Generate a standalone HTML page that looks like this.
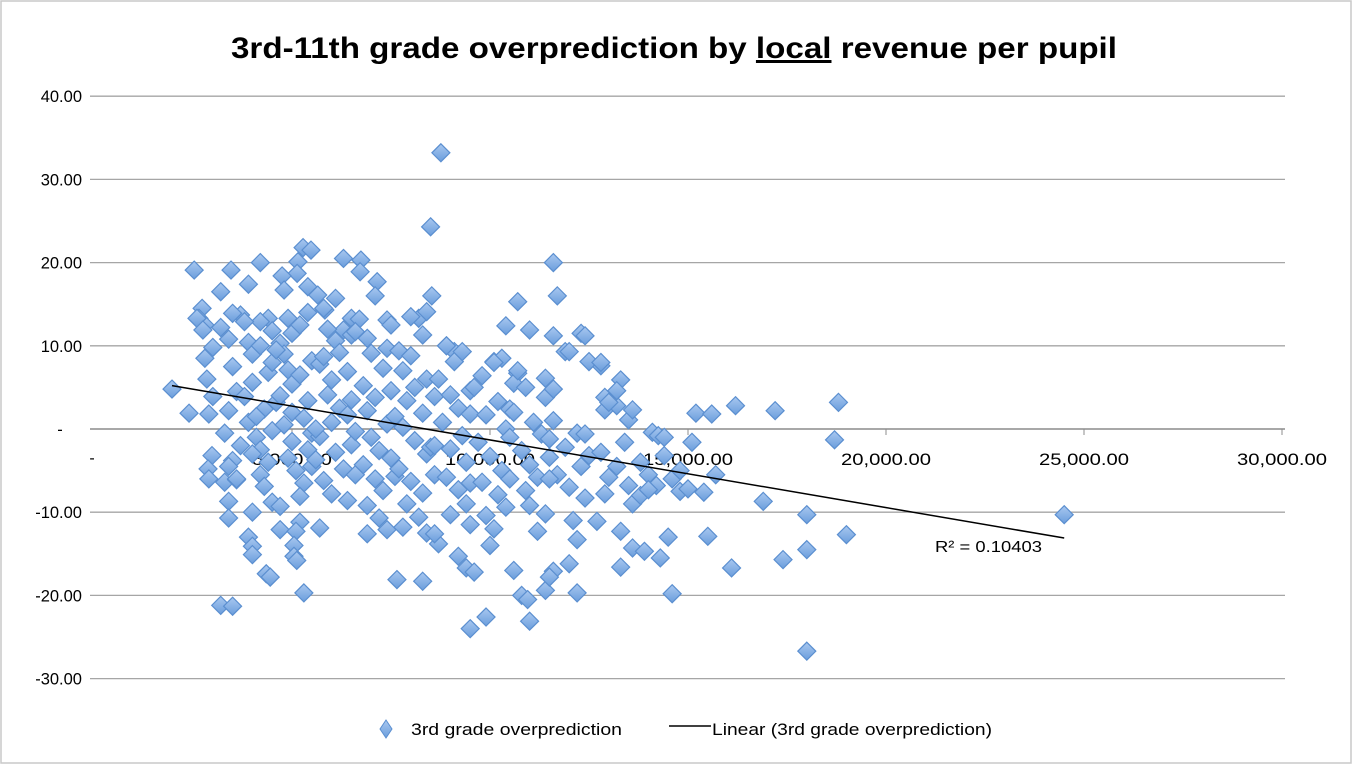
<!DOCTYPE html>
<html><head><meta charset="utf-8">
<style>
html,body{margin:0;padding:0;background:#fff;}
#wrap{position:relative;width:1353px;height:766px;overflow:hidden;}
svg{display:block;font-family:"Liberation Sans",sans-serif;}
</style></head>
<body>
<div id="wrap">
<svg id="chart" width="1353" height="766" viewBox="0 0 1353 766">
<defs>
<linearGradient id="dg" x1="0" y1="0" x2="0" y2="1">
<stop offset="0" stop-color="#a9c8f0"/><stop offset="1" stop-color="#6a9ddc"/>
</linearGradient>
</defs>
<rect x="1" y="1" width="1350" height="762" fill="#fff" stroke="#c8c8c8" stroke-width="1.5"/>
<text x="674" y="58" text-anchor="middle" font-size="30" font-weight="bold" fill="#000" textLength="886" lengthAdjust="spacingAndGlyphs">3rd-11th grade overprediction by <tspan text-decoration="underline">local</tspan> revenue per pupil</text>
<g id="grid"></g>
<g id="yticks"></g>
<g id="xaxis"></g>
<g id="points"></g>
<g id="trend"></g>
<text x="935" y="552" font-size="16" fill="#000" textLength="107" lengthAdjust="spacingAndGlyphs">R² = 0.10403</text>
<g>
<path d="M386,720 L392,729 L386,738 L380,729 Z" fill="url(#dg)" stroke="#5b8fd0" stroke-width="1"/>
<text x="411" y="735" font-size="17" fill="#000" textLength="211" lengthAdjust="spacingAndGlyphs">3rd grade overprediction</text>
<line x1="669" y1="726" x2="711" y2="726" stroke="#000" stroke-width="1.5"/>
<text x="712" y="735" font-size="17" fill="#000" textLength="280" lengthAdjust="spacingAndGlyphs">Linear (3rd grade overprediction)</text>
</g>
</svg>
</div>
<script>
const yTicks=[40,30,20,10,0,-10,-20,-30];
const yTickLabels=["40.00","30.00","20.00","10.00","-","-10.00","-20.00","-30.00"];
const xTicks=[5000,10000,15000,20000,25000,30000];
const xTickLabels=["5,000.00","10,000.00","15,000.00","20,000.00","25,000.00","30,000.00"];
// revenue per pupil (thousands)
const revK=[1.97,2.53,2.4,8.76,8.5,8.53,5.28,5.48,5.15,4.2,3.46,6.3,6.74,6.72,5.13,4.75,7.15,7.1,11.6,11.7,4.8,3.2,3.9,5.4,5.65,6.1,5.83,10.7,2.73,2.65,2.8,3.7,4.4,4.2,4.9,6.5,6.3,7.4,7.5,8.2,8.4,10.4,11.0,12.3,12.4,11.6,11.9,12.8,12.5,13.3,11.4,10.7,10.6,10.1,10.3,8.9,9.1,12.9,12.9,13.2,13.5,13.6,15.2,15.6,16.2,17.2,18.8,18.7,15.1,14.1,14.25,15.7,14.8,15.0,15.4,16.9,18.0,24.5,19.0,18.0,15.5,17.4,16.1,14.6,18.0,14.5,14.3,13.6,13.3,13.9,13.3,
2.98,2.88,2.9,3.3,3.6,3.4,3.4,4.0,3.9,4.0,4.0,4.7,5.2,5.1,5.05,5.05,5.12,5.7,4.35,4.45,3.2,3.5,5.3,7.65,8.3,9.2,9.4,9.6,8.7,10.0,10.6,10.8,10.95,11.4,9.5,9.9,11.0,12.2,11.6,11.5,12.0,12.2,12.7,
2.6,2.75,2.8,2.85,3.0,3.2,3.0,2.9,3.4,3.3,3.4,3.6,3.5,3.4,3.6,3.7,3.5,3.5,
3.8,3.9,4.0,4.0,3.8,3.9,4.1,4.2,4.2,4.3,4.4,4.3,4.4,4.2,4.5,4.5,4.5,4.6,4.5,4.0,4.1,
4.7,4.8,4.9,5.0,4.7,5.0,4.8,5.0,4.9,5.1,5.3,5.2,5.4,5.3,5.4,5.2,5.5,5.0,5.4,5.2,5.5,5.5,4.6,4.7,
5.8,5.9,6.1,6.2,5.7,6.0,5.9,6.2,6.0,5.7,6.1,6.3,5.8,6.0,6.4,5.6,6.4,6.5,6.4,6.5,6.5,5.8,6.6,5.6,
6.7,6.9,7.0,7.3,6.8,7.1,6.9,7.4,7.0,7.2,6.8,7.1,7.3,6.9,7.2,7.4,6.9,7.5,7.4,6.6,6.6,7.5,7.6,7.6,
7.7,8.0,7.8,8.1,7.9,8.3,7.8,8.1,8.4,7.7,8.0,8.3,7.9,8.2,7.8,8.4,8.3,8.4,8.5,8.6,8.6,8.0,
8.9,9.1,8.7,9.0,9.2,8.8,9.3,9.0,9.4,8.9,9.2,9.4,9.0,8.6,9.5,9.3,9.5,8.6,9.5,9.5,
10.1,9.8,9.6,10.2,9.9,10.4,9.7,10.0,10.3,9.8,10.2,10.4,9.9,10.1,10.5,10.5,10.5,
10.7,10.9,10.6,11.1,11.3,10.8,11.0,11.2,10.9,11.0,11.4,11.2,11.4,11.5,11.5,
12.0,11.6,12.2,11.9,12.3,11.7,12.0,12.4,12.1,12.4,12.5,11.6,11.5,
12.8,13.2,13.0,13.4,12.8,13.2,13.0,13.5,12.9,13.6,13.8,14.0,14.2,13.8,14.0,14.4,14.6,14.4,14.8];
// overprediction values
const overpred=[4.8,19.1,1.9,33.2,24.3,16.0,21.8,21.5,20.1,20.0,19.1,20.5,20.3,18.9,18.7,18.4,17.7,16.0,20.0,16.0,16.7,16.5,17.4,17.1,16.1,15.7,14.3,15.3,14.5,13.3,12.5,13.7,13.3,12.9,13.3,13.3,11.9,13.1,12.5,13.3,14.1,12.4,11.9,11.5,11.2,11.2,9.3,7.6,8.1,5.9,6.1,6.7,5.5,8.1,8.5,10.0,9.3,3.8,2.3,2.8,1.1,2.3,1.9,1.8,2.8,2.2,3.2,-1.3,-1.6,-0.4,-0.8,-5.5,-7.5,-7.2,-7.6,-8.7,-10.3,-10.3,-12.7,-14.5,-12.9,-15.7,-16.7,-19.8,-26.7,-13.0,-15.5,-14.3,-12.3,-14.7,-16.6,
-3.2,-4.8,-6.0,-6.4,-6.1,-8.7,-10.7,-10.0,-13.0,-14.1,-15.1,-12.1,-11.2,-12.3,-14.0,-15.3,-15.8,-11.9,-17.4,-17.8,-21.2,-21.3,-19.7,-18.1,-18.3,-15.3,-16.7,-17.2,-13.8,-14.0,-17.0,-20.0,-20.5,-19.4,-24.0,-22.6,-23.1,-19.7,-17.1,-17.8,-16.2,-13.3,-11.1,
13.3,11.9,8.5,6.0,9.8,12.2,3.9,1.8,10.8,-0.5,2.2,4.5,-3.8,-4.5,-6.0,-2.0,7.5,13.9,
12.9,10.4,9.0,5.6,3.9,0.8,-1.0,-2.5,-5.5,-6.9,-4.0,2.4,6.8,10.0,11.8,8.0,-0.2,3.2,-8.8,-3.0,1.5,
10.3,9.0,7.1,5.4,4.0,2.0,0.5,-1.5,-3.5,-5.0,-6.5,-8.1,-2.5,1.3,3.4,6.5,8.2,11.5,14.0,12.5,-0.5,-4.5,9.5,-9.3,
14.5,12.0,10.6,9.2,7.8,5.9,4.1,2.5,0.8,-0.9,-2.8,-4.8,-6.2,-7.8,-8.6,-3.7,1.7,3.5,6.9,11.3,-1.9,8.7,-5.5,0.0,
13.2,10.9,9.1,7.3,5.2,3.8,2.2,0.6,-1.0,-2.6,-4.3,-6.0,-7.4,-9.2,-10.7,-12.1,-12.6,4.6,9.7,11.7,-0.3,-3.5,1.5,-5.7,
9.4,8.8,7.0,5.0,3.4,1.9,0.2,-1.4,-3.0,-4.8,-6.3,-7.7,-9.0,-10.6,-11.8,-12.5,11.3,6.0,-2.2,3.9,-5.5,13.5,
10.0,8.1,6.0,4.1,2.5,0.8,-0.8,-2.4,-4.0,-5.8,-7.3,-9.0,-10.3,-12.6,-11.5,9.3,1.8,-2.0,4.6,-6.5,
8.0,6.4,5.0,3.3,1.7,0.0,-1.6,-3.3,-5.0,-6.4,-7.9,-9.4,-10.4,-12.0,-6.0,2.4,-1.0,
7.0,5.0,2.0,0.8,-0.6,-2.6,-4.3,-5.8,-7.4,-9.2,-10.2,-12.3,3.8,-1.2,-3.4,
9.3,1.0,-0.5,-2.2,-4.5,-5.5,-7.0,-8.3,-11.0,-0.6,-3.2,4.8,-6.0,
8.0,4.6,3.2,-1.6,-2.8,-4.5,-5.8,-6.8,-7.8,-9.0,-4.0,-5.5,-6.8,-8.0,-7.3,-3.2,-6.0,-1.0,-5.0];

const NS="http://www.w3.org/2000/svg";
const L=90,R=1285,T=96,B=679;
function X(v){return 94+v*0.0396;}        // v in dollars
function Y(v){return 429-v*8.32;}
const grid=document.getElementById('grid');
const yt=document.getElementById('yticks');
yTicks.forEach((t,i)=>{
  const ln=document.createElementNS(NS,'line');
  
  
  ln.setAttribute('x1',L);ln.setAttribute('x2',R);
  ln.setAttribute('y1',Y(t));ln.setAttribute('y2',Y(t));
  ln.setAttribute('stroke',t===0?'#8c8c8c':'#a6a6a6');ln.setAttribute('stroke-width',t===0?1.5:1.3);
  grid.appendChild(ln);
  const tx=document.createElementNS(NS,'text');
  
  
  tx.setAttribute('x',t===0?60:82);tx.setAttribute('y',Y(t)+6);
  tx.setAttribute('text-anchor',t===0?'middle':'end');tx.setAttribute('font-size','16.5');
  tx.textContent=yTickLabels[i];yt.appendChild(tx);
});
const xa=document.getElementById('xaxis');
const zl=document.createElementNS(NS,'text');


zl.setAttribute('x',92);zl.setAttribute('y',463);zl.setAttribute('text-anchor','middle');zl.setAttribute('font-size','16');
zl.textContent='-';xa.appendChild(zl);
xTicks.forEach((t,i)=>{
  const tk=document.createElementNS(NS,'line');
  
  
  tk.setAttribute('x1',X(t));tk.setAttribute('x2',X(t));tk.setAttribute('y1',429);tk.setAttribute('y2',435);
  tk.setAttribute('stroke','#8c8c8c');xa.appendChild(tk);
  const tx=document.createElementNS(NS,'text');
  
  
  tx.setAttribute('x',X(t));tx.setAttribute('y',465);tx.setAttribute('text-anchor','middle');tx.setAttribute('font-size','17');
  tx.setAttribute('textLength',xTickLabels[i].length*10);tx.setAttribute('lengthAdjust','spacingAndGlyphs');
  tx.textContent=xTickLabels[i];xa.appendChild(tx);
});
const pg=document.getElementById('points');
const n=Math.min(revK.length,overpred.length);
for(let i=0;i<n;i++){
  const cx=X(revK[i]*1000),cy=Y(overpred[i]);
  const p=document.createElementNS(NS,'path');
  
  
  p.setAttribute('d',`M${cx},${cy-9} L${cx+9},${cy} L${cx},${cy+9} L${cx-9},${cy} Z`);
  p.setAttribute('fill','url(#dg)');p.setAttribute('stroke','#5b8fd0');p.setAttribute('stroke-width','1.2');
  pg.appendChild(p);
}
// linear regression trendline
let sx=0,sy=0,sxx=0,sxy=0,mn=Infinity,mx=-Infinity;
for(let i=0;i<n;i++){const x=revK[i],y=overpred[i];sx+=x;sy+=y;sxx+=x*x;sxy+=x*y;mn=Math.min(mn,x);mx=Math.max(mx,x);}
const slope=(n*sxy-sx*sy)/(n*sxx-sx*sx),icpt=(sy-slope*sx)/n;
const tl=document.createElementNS(NS,'line');


tl.setAttribute('x1',X(mn*1000));tl.setAttribute('y1',Y(icpt+slope*mn));
tl.setAttribute('x2',X(mx*1000));tl.setAttribute('y2',Y(icpt+slope*mx));
tl.setAttribute('stroke','#000');tl.setAttribute('stroke-width','1.5');
document.getElementById('trend').appendChild(tl);
</script>
</body></html>
